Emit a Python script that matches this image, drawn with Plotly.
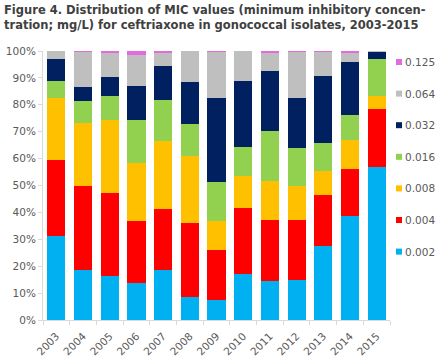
import plotly.graph_objects as go

years = ["2003", "2004", "2005", "2006", "2007", "2008", "2009",
         "2010", "2011", "2012", "2013", "2014", "2015"]
mic_labels = ["0.002", "0.004", "0.008", "0.016", "0.032", "0.064", "0.125"]

v_0002 = [31.3, 18.7, 16.4, 13.8, 18.7, 8.6, 7.5, 17.1, 14.5, 14.9, 27.5, 38.7, 56.9]
v_0004 = [28.3, 31.2, 30.8, 23.0, 22.6, 27.5, 18.5, 24.5, 22.7, 22.3, 19.0, 17.4, 21.5]
v_0008 = [23.0, 23.3, 27.3, 21.6, 25.2, 24.9, 10.8, 11.9, 14.5, 12.6, 8.9, 10.8, 5.0]
v_0016 = [6.2, 8.2, 8.8, 15.9, 15.3, 11.9, 14.5, 10.8, 18.6, 14.1, 10.4, 9.3, 13.6]
v_0032 = [8.2, 5.2, 7.0, 12.7, 12.6, 15.6, 31.2, 24.5, 22.3, 18.6, 24.9, 19.7, 2.7]
v_0064 = [3.0, 13.1, 9.0, 11.5, 5.2, 11.5, 17.2, 11.2, 6.7, 17.2, 9.0, 3.6, 0.3]
v_0125 = [0.0, 0.3, 0.7, 1.5, 0.4, 0.0, 0.3, 0.0, 0.7, 0.3, 0.3, 0.5, 0.0]

series = [v_0002, v_0004, v_0008, v_0016, v_0032, v_0064, v_0125]
colors = ["#00B0F0", "#FF0000", "#FFC000", "#92D050", "#002060", "#BFBFBF", "#E46BDF"]

FONT = "DejaVu Sans"
GREY = "#595959"
TITLE = ("Figure 4. Distribution of MIC values (minimum inhibitory concen-<br>"
         "tration; mg/L) for ceftriaxone in gonococcal isolates, 2003-2015")

# plot area in pixels
L, R, T, B = 43, 390, 51, 320
W, H = R - L, B - T


def px_x(px):
    return (px - L) / W


def px_y(py):
    return (B - py) / H


fig = go.Figure()
for name, vals, col in zip(mic_labels, series, colors):
    fig.add_trace(go.Bar(x=years, y=vals, name=name, marker=dict(color=col, line=dict(width=0)),
                         showlegend=False, hoverinfo="x+y+name"))

# title
fig.add_annotation(
    text="<b>" + TITLE + "</b>", xref="paper", yref="paper",
    x=px_x(2), y=px_y(1), xanchor="left", yanchor="top",
    align="left", showarrow=False,
    font=dict(family=FONT, size=11.5, color="#404040"),
)

# legend (top entry = 0.125)
shapes = []
for i, (name, col) in enumerate(reversed(list(zip(mic_labels, colors)))):
    cy = 62 + 31.6 * i
    shapes.append(dict(type="rect", xref="paper", yref="paper",
                       x0=px_x(396), x1=px_x(402), y0=px_y(cy + 3), y1=px_y(cy - 3),
                       fillcolor=col, line=dict(width=0)))
    fig.add_annotation(text=name, xref="paper", yref="paper", x=px_x(403), y=px_y(cy),
                       xanchor="left", yanchor="middle", showarrow=False,
                       font=dict(family=FONT, size=10.5, color=GREY))

fig.update_layout(
    width=440, height=360,
    barmode="stack", bargap=0.32,
    paper_bgcolor="white", plot_bgcolor="white",
    margin=dict(l=L, r=440 - R, t=T, b=360 - B, autoexpand=False),
    font=dict(family=FONT, size=10.5, color=GREY),
    showlegend=False,
    shapes=shapes,
    xaxis=dict(
        type="category", tickangle=-45, showline=True, linecolor="#D9D9D9", linewidth=1,
        ticks="outside", tickson="boundaries", ticklen=4, tickcolor="#D9D9D9",
        ticklabelstandoff=5,
        showgrid=False, automargin=False, tickfont=dict(family=FONT, size=10.5, color=GREY),
    ),
    yaxis=dict(
        range=[0, 100], tickvals=list(range(0, 101, 10)),
        ticktext=[f"{t}%" for t in range(0, 101, 10)],
        showline=True, linecolor="#D9D9D9", linewidth=1,
        ticks="outside", ticklen=4, tickcolor="#D9D9D9",
        showgrid=False, zeroline=False, automargin=False,
        tickfont=dict(family=FONT, size=10.5, color=GREY),
    ),
)

fig.write_html("out.html", config={"displayModeBar": False},
               post_script="document.body.style.margin='0';")
